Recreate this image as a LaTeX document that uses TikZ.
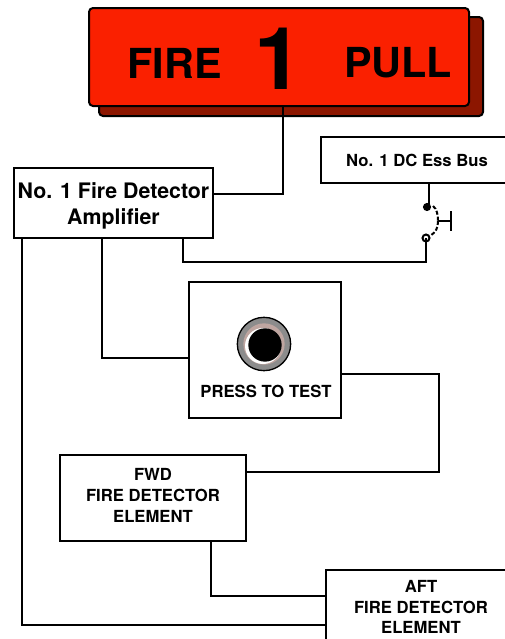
\documentclass[tikz,border=0pt]{standalone}
\usepackage{fontspec}
\setmainfont{TeX Gyre Heros}
\definecolor{firered}{RGB}{250,32,0}
\definecolor{firedark}{RGB}{140,22,0}
\definecolor{ringpink}{RGB}{190,165,160}
\usetikzlibrary{positioning,calc}
\tikzset{
  wire/.style={line width=1.5pt, black},
  box/.style={draw=black, line width=1.5pt, fill=white, inner sep=0pt, outer sep=0pt, align=center, font=\bfseries\fontsize{12.5}{15.5}\selectfont},
  handletext/.style={inner sep=0pt, font=\bfseries\fontsize{31}{31}\selectfont}
}
\begin{document}
\begin{tikzpicture}[x=0.75pt, y=-0.75pt]
  \useasboundingbox (0,0) rectangle (504,639);
  % Fire handle
  \node[draw=black, line width=1.5pt, fill=firedark, rounded corners=3pt, minimum width=288pt, minimum height=74.25pt, inner sep=0pt] (shadow) at (291,66.5) {};
  \node[draw=black, line width=1.5pt, fill=firered, rounded corners=3pt, minimum width=285pt, minimum height=73.5pt, inner sep=0pt, outer sep=0pt] (handle) at (279,57) {};
  \node[handletext] (fire) at (174.5,63) {FIRE};
  \node[handletext, font=\bfseries\fontsize{65}{65}\selectfont] (one) at (279,59) {1};
  \node[handletext] (pull) at (398,63) {PULL};
  % Boxes
  \node[box, minimum width=149.25pt, minimum height=52.5pt, font=\bfseries\fontsize{16}{19.5}\selectfont] (amp) at (113.5,203) {\rule{0pt}{16pt}No. 1 Fire Detector\\Amplifier};
  \node[box, minimum width=144pt, minimum height=34.5pt] (bus) at (417,160) {No. 1 DC Ess Bus};
  \node[box, minimum width=114pt, minimum height=102pt] (press) at (265,350) {};
  \node[box, minimum width=139.5pt, minimum height=64.5pt] (fwd) at (153,498) {FWD\\FIRE DETECTOR\\ELEMENT\rule[-4pt]{0pt}{4pt}};
  \node[box, minimum width=142.5pt, minimum height=55.5pt] (aft) at (421,607) {AFT\\FIRE DETECTOR\\ELEMENT};
  % Press to test button
  \node[circle, draw=black, line width=1pt, fill=black!45, minimum size=40pt, inner sep=0pt] (ring) at (264,344) {};
  \node[circle, fill=ringpink, minimum size=31pt, inner sep=0pt] (band) at (264,344) {};
  \node[circle, fill=white, minimum size=27pt, inner sep=0pt] (glint) at (263,346) {};
  \node[circle, fill=black, minimum size=25pt, inner sep=0pt] (button) at (265,345) {};
  \node[inner sep=0pt, font=\bfseries\fontsize{12.5}{15}\selectfont] (test) at (266,391) {PRESS TO TEST};
  % Switch
  \coordinate (swtop) at (427,207);
  \coordinate (swbot) at (426,238);
  \coordinate (swmid) at (438,221);
  \draw[wire] (bus.south -| 429,0) -- (429,204);
  \draw[wire, fill=black] (swtop) circle (3);
  \draw[wire] (swbot) circle (3.5);
  \draw[wire, dash pattern=on 3pt off 1.5pt] (433,206) .. controls (437,209) and (438,215) .. (swmid);
  \draw[wire, dash pattern=on 3pt off 1.5pt] (swmid) .. controls (438,228) and (436,232) .. (430,236);
  \draw[wire] (swmid) -- (451,221);
  \draw[wire] (451,211) -- (451,231);
  % Wires
  \draw[wire] (283,0 |- handle.south) |- (amp.east |- 0,194);
  \draw[wire] (183,0 |- amp.south) |- (426,262) -- (swbot);
  \draw[wire] (102,0 |- amp.south) |- (press.west |- 0,358);
  \draw[wire] (22,0 |- amp.south) |- (aft.west |- 0,625);
  \draw[wire] (press.east |- 0,374) -| (439,472) -- (fwd.east |- 0,472);
  \draw[wire] (211,0 |- fwd.south) |- (aft.west |- 0,596);
\end{tikzpicture}
\end{document}
